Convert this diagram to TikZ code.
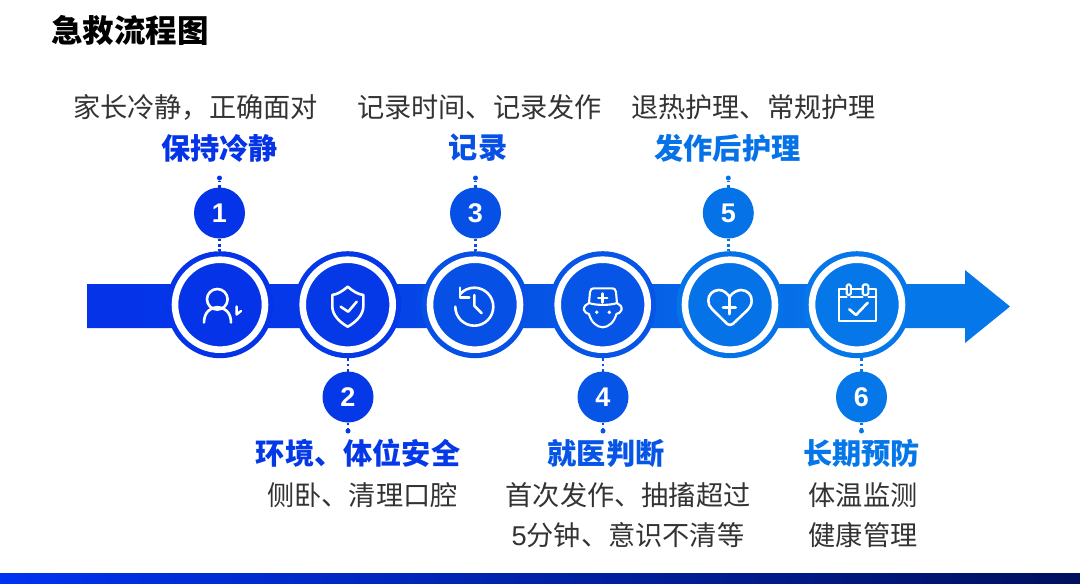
\documentclass[tikz,border=0pt]{standalone}
\usepackage{fontspec}
\setmainfont{Noto Sans CJK SC}
\newfontfamily\latinsans{Liberation Sans}
\usetikzlibrary{shadings}
\definecolor{cA}{HTML}{0533E8}
\definecolor{cB}{HTML}{0539E8}
\definecolor{cC}{HTML}{0650E6}
\definecolor{cD}{HTML}{0655E6}
\definecolor{cE}{HTML}{0672E8}
\definecolor{cF}{HTML}{0677E8}
\definecolor{bodytext}{HTML}{333333}
\definecolor{footL}{HTML}{0033F2}
\definecolor{footR}{HTML}{00105E}
\pgfdeclarehorizontalshading{flowband}{100bp}{
  color(0bp)=(cA); color(25bp)=(cA); color(37bp)=(cB); color(50bp)=(cD); color(67bp)=(cF); color(100bp)=(cF)}
\pgfdeclarehorizontalshading{footband}{100bp}{
  color(0bp)=(footL); color(25bp)=(footL); color(75bp)=(footR); color(100bp)=(footR)}
\tikzset{
  bigdisc/.style={circle,inner sep=0pt,outer sep=0pt,minimum size=107pt},
  coredisc/.style={circle,inner sep=0pt,outer sep=0pt,minimum size=90pt,draw=white,line width=6.6pt},
  numdisc/.style={circle,inner sep=0pt,outer sep=0pt,minimum size=51pt,text=white,font=\latinsans\fontsize{27}{30}\selectfont\bfseries},
  enddot/.style={circle,inner sep=0pt,outer sep=0pt,minimum size=5pt},
  dotline/.style={line width=2.6pt,dash pattern=on 2.6pt off 2.8pt},
  icon/.style={draw=white,line width=2.6pt,line cap=round,line join=round},
  desc/.style={inner sep=0pt,text=bodytext,font=\fontsize{27.2}{32}\selectfont},
  head/.style={inner sep=0pt,font=\fontsize{29.2}{34}\selectfont\bfseries}
}
\begin{document}
\begin{tikzpicture}[x=1pt,y=-1pt]
\useasboundingbox (0,0) rectangle (1080,584);
\fill[white] (0,0) rectangle (1080,584);
% footer and title
\path[shading=footband] (0,573) rectangle (1080,584);
\node[inner sep=0pt,text=black,font=\fontsize{31.5}{36}\selectfont\bfseries] (title) at (130,30) {急救流程图};
% arrow
\path[shading=flowband] (87,284) -- (965,284) -- (965,270) -- (1010,306.5) -- (965,343) -- (965,328) -- (87,328) -- cycle;
% large discs
\foreach \i/\cx/\col in {1/220/cA,2/347.7/cB,3/475/cC,4/602.7/cD,5/730/cE,6/857/cF}{
  \node[bigdisc,fill=\col] (big\i) at (\cx,304.7) {};
  \node[coredisc,fill=\col] (core\i) at (\cx,304.7) {};
}
% numbered discs and end dots
\foreach \i/\cx/\cy/\dy/\col in {1/219.5/213/178/cA,2/348/397/431/cB,3/475.5/213/178/cC,4/603/397/431/cD,5/728.3/213/178/cE,6/861.5/397/431/cF}{
  \node[numdisc,fill=\col] (num\i) at (\cx,\cy) {\i};
  \node[enddot,fill=\col] (dot\i) at (\cx,\dy) {};
}
\foreach \i/\col in {1/cA,3/cC,5/cE}{
  \draw[dotline,draw=\col] (num\i.south) -- (num\i.south |- big\i.north);
  \draw[dotline,draw=\col] (num\i.north) -- (dot\i.south);
}
\foreach \i/\col in {2/cB,4/cD,6/cF}{
  \draw[dotline,draw=\col] (num\i.north) -- (num\i.north |- big\i.south);
  \draw[dotline,draw=\col] (num\i.south) -- (dot\i.north);
}
% texts
\node[desc] (d1) at (195.5,107) {家长冷静，正确面对};
\node[head,text=cA] (h1) at (219.5,148) {保持冷静};
\node[desc] (d3) at (479.5,107) {记录时间、记录发作};
\node[head,text=cC] (h3) at (478,148) {记录};
\node[desc] (d5) at (753.5,107) {退热护理、常规护理};
\node[head,text=cE] (h5) at (727.5,148) {发作后护理};
\node[head,text=cB] (h2) at (358,453) {环境、体位安全};
\node[desc] (d2) at (362.5,495) {侧卧、清理口腔};
\node[head,text=cD] (h4) at (606,453) {就医判断};
\node[desc] (d4a) at (628,495) {首次发作、抽搐超过};
\node[desc] (d4b) at (628,535) {{\latinsans 5}分钟、意识不清等};
\node[head,text=cF] (h6) at (861.5,453) {长期预防};
\node[desc] (d6a) at (863,495) {体温监测};
\node[desc] (d6b) at (863,535) {健康管理};
% icon 1: person
\draw[icon] (217.3,299.3) circle (10.3pt);
\draw[icon] (204,322.5) .. controls (204,302) and (231,302) .. (231,322.5);
\draw[icon,line width=2.4pt] (236.6,306.5) -- (236.6,314.5) -- (241,311);
% icon 2: shield
\draw[icon] (347.7,286.7) .. controls (342,291.5) and (338,294) .. (332.3,295) -- (332.3,306.7) .. controls (332.3,315) and (340,322.5) .. (347.7,326.7) .. controls (355.4,322.5) and (363.3,315) .. (363.3,306.7) -- (363.3,295) .. controls (357.4,294) and (353.4,291.5) .. (347.7,286.7) -- cycle;
\draw[icon] (340.7,306.7) -- (348.2,311.7) -- (356.7,301.7);
% icon 3: clock
\draw[icon] (455.3,306.7) arc[start angle=180,end angle=498,radius=19pt];
\draw[icon] (460,287.7) -- (460,297.3) -- (469.3,297.3);
\draw[icon] (474.3,295) -- (474.3,305.7) -- (481.7,313.3);
% icon 4: doctor
\draw[icon,line width=2.1pt] (589,303) -- (590,292) .. controls (590.3,289) and (592,288.3) .. (594,288.3) -- (612,288.3) .. controls (614,288.3) and (615.7,289) .. (616,292) -- (617,303);
\draw[icon,line width=2.1pt] (589,303) .. controls (595,305.5) and (611,305.5) .. (617,303);
\draw[icon,line width=2.1pt] (589,303) .. controls (586,304) and (583.3,307) .. (584,310) .. controls (584.5,312) and (587,314) .. (589,314) .. controls (591,322) and (597,327.3) .. (602.7,327.3) .. controls (608.4,327.3) and (614.4,322) .. (616.4,314) .. controls (618.4,314) and (621,312) .. (621.5,310) .. controls (622.2,307) and (620,304) .. (617,303);
\draw[icon,line width=2.5pt] (602.7,293.5) -- (602.7,302.5) (598.2,298) -- (607.2,298);
\fill[white] (596.7,312.3) circle (1.9pt) (609.3,312.3) circle (1.9pt);
% icon 5: heart
\draw[icon] (729.5,301) -- (729.5,296.8) .. controls (733,292) and (738,290) .. (741,290) .. controls (747.5,290) and (751.7,295) .. (751.7,300.5) .. controls (751.7,305) and (749.5,308) .. (746.5,311) -- (733,323.8) .. controls (731,325.4) and (729,325.4) .. (727,323.8) -- (712,309) .. controls (709.5,306.5) and (708.3,304) .. (708.3,300.5) .. controls (708.3,295) and (712.5,290) .. (719,290) .. controls (723,290) and (726.5,292.5) .. (729.5,296.8);
\draw[icon,line width=3pt] (729.3,301.5) -- (729.3,314) (723,307.7) -- (735.6,307.7);
% icon 6: calendar
\draw[icon,line width=2.1pt] (846.5,289.3) -- (839.3,289.3) -- (839.3,320.7) -- (876,320.7) -- (876,289.3) -- (868.5,289.3);
\draw[icon,line width=2.1pt] (851,289.3) -- (862.5,289.3);
\draw[icon,line width=2.1pt] (839.3,296.7) -- (846.5,296.7) (851,296.7) -- (862.5,296.7) (868.5,296.7) -- (876,296.7);
\draw[icon,line width=2.1pt,rounded corners=1.5pt] (846.7,284.5) rectangle (850.9,295);
\draw[icon,line width=2.1pt,rounded corners=1.5pt] (862.7,284.5) rectangle (868.3,295);
\draw[icon,line width=2.6pt] (849.3,309.3) -- (856,315) -- (867.7,302.7);
\end{tikzpicture}
\end{document}
